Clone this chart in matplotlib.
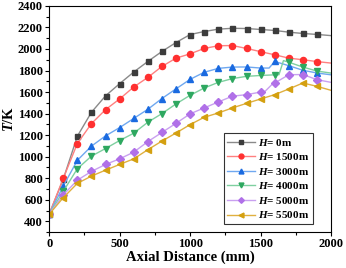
import matplotlib
matplotlib.use("Agg")
import matplotlib.pyplot as plt
import numpy as np
from matplotlib.ticker import AutoMinorLocator

plt.rcParams['font.family'] = ['Liberation Serif', 'DejaVu Serif']
plt.rcParams['font.weight'] = 'bold'
plt.rcParams['mathtext.fontset'] = 'custom'
plt.rcParams['mathtext.it'] = 'Liberation Serif:italic:bold'
plt.rcParams['mathtext.rm'] = 'Liberation Serif:bold'

# marker positions (mm)
x_mk = [0, 100, 200, 300, 400, 500, 600, 700, 800, 900,
        1000, 1100, 1200, 1300, 1400, 1500, 1600, 1700, 1800, 1900]

# temperature at marker positions (K)
T_0 = [465, 790, 1190, 1412, 1565, 1678, 1786, 1884, 1977, 2060,
       2134, 2162, 2184, 2192, 2190, 2181, 2172, 2156, 2144, 2135]
T_1500 = [465, 798, 1122, 1307, 1437, 1536, 1647, 1736, 1838, 1915,
          1955, 2005, 2030, 2032, 2005, 1975, 1946, 1915, 1900, 1883]
T_3000 = [465, 727, 966, 1098, 1193, 1270, 1355, 1440, 1540, 1630,
          1718, 1784, 1820, 1832, 1833, 1823, 1884, 1845, 1802, 1777]
T_4000 = [465, 678, 888, 1005, 1076, 1150, 1218, 1320, 1400, 1490,
          1570, 1638, 1690, 1725, 1746, 1754, 1760, 1877, 1832, 1795]
T_5000 = [465, 645, 782, 863, 928, 980, 1042, 1140, 1225, 1310,
          1398, 1453, 1508, 1562, 1576, 1600, 1684, 1761, 1763, 1715]
T_5500 = [465, 619, 752, 820, 875, 928, 980, 1065, 1145, 1220,
          1298, 1366, 1406, 1453, 1495, 1536, 1576, 1629, 1684, 1653]

# extra line points between markers (jumps) and line end at 2000 mm
extra_0 = ([2000], [2124])
extra_1500 = ([2000], [1869])
extra_3000 = ([1560, 2000], [1823, 1760])
extra_4000 = ([1630, 1662, 2000], [1761, 1892, 1776])
extra_5000 = ([1530, 1580, 2000], [1605, 1670, 1690])
extra_5500 = ([2000], [1616])

labels = ['0m', '1500m', '3000m', '4000m', '5000m', '5500m']
series = [T_0, T_1500, T_3000, T_4000, T_5000, T_5500]
extras = [extra_0, extra_1500, extra_3000, extra_4000, extra_5000, extra_5500]
line_colors = ['#8a8a8a', '#ff8080', '#6fa8f0', '#7fd0a0', '#c9a0f0', '#e0b040']
mk_colors = ['#3c3c3c', '#ff3030', '#1a6ae0', '#2ea860', '#b070e8', '#d4a010']
markers = ['s', 'o', '^', 'v', 'D', '<']
msizes = [3.6, 4.4, 4.4, 4.4, 3.6, 4.4]

fig = plt.figure(figsize=(3.46, 2.68), dpi=100)
ax = fig.add_axes([0.142, 0.134, 0.815, 0.844])

for T, ex, lab, lc, mc, m, ms in zip(series, extras, labels, line_colors,
                                     mk_colors, markers, msizes):
    xs = list(x_mk) + list(ex[0])
    ys = list(T) + list(ex[1])
    order = np.argsort(xs)
    xs = np.array(xs)[order]
    ys = np.array(ys)[order]
    mk_idx = [i for i, v in enumerate(xs) if v in x_mk]
    ax.plot(xs, ys, color=lc, lw=1.0, marker=m, markevery=mk_idx,
            markersize=ms, markerfacecolor=mc, markeredgecolor=mc,
            label=r'$H$= ' + lab)

ax.set_xlim(0, 2000)
ax.set_ylim(300, 2400)
ax.set_xticks([0, 500, 1000, 1500, 2000])
ax.set_yticks(np.arange(400, 2401, 200))
ax.xaxis.set_minor_locator(AutoMinorLocator(2))
ax.yaxis.set_minor_locator(AutoMinorLocator(2))
ax.tick_params(axis='both', which='major', direction='out', length=3,
               width=0.8, labelsize=9, pad=1.5)
ax.tick_params(axis='both', which='minor', direction='out', length=2,
               width=0.8)
for lbl in ax.get_xticklabels() + ax.get_yticklabels():
    lbl.set_fontweight('bold')

ax.set_xlabel('Axial Distance (mm)', fontsize=10.5, fontweight='bold', labelpad=0)
ax.set_ylabel(r'$T$/K', fontsize=10.5, fontweight='bold', labelpad=1)

leg = ax.legend(loc='lower right', bbox_to_anchor=(0.955, 0.012), fontsize=8,
                frameon=True, fancybox=False, edgecolor='black',
                handlelength=2.5, handletextpad=0.3, labelspacing=0.32,
                borderpad=0.3, markerscale=0.8)
leg.get_frame().set_linewidth(0.8)
for t in leg.get_texts():
    t.set_fontweight('bold')

fig.savefig('out.png', dpi=100)
